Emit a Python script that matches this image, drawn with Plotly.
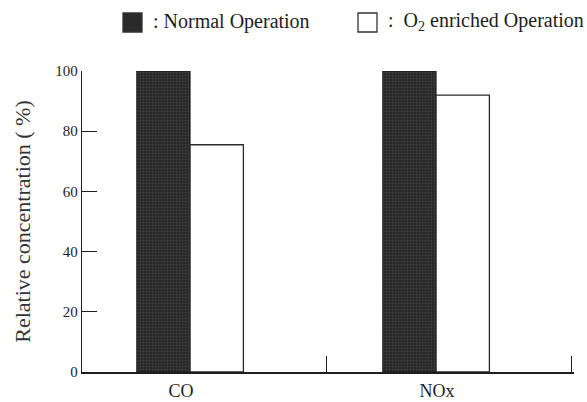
import plotly.graph_objects as go

# Relative concentration of flue-gas species (%)
categories = ["CO", "NOx"]
normal_values = [100, 100]
enriched_values = [75.5, 92]
series_names = ["Normal Operation", "O<sub>2</sub> enriched Operation"]
y_ticks = [0, 20, 40, 60, 80, 100]

# group layout on a numeric x axis: one unit per category
x_range = [0, 2.012]
group_centers = [0.442, 1.448]
label_positions = [0.405, 1.452]
bar_w = 0.218
serif = "Liberation Serif"
ink = "#1e1e1e"

PLOT_L, PLOT_T, PLOT_B = 82, 71, 372
PLOT_W = 492
PLOT_H = PLOT_B - PLOT_T

fig = go.Figure()
fig.add_trace(go.Bar(
    x=group_centers, y=normal_values, width=bar_w, offset=-bar_w,
    name=series_names[0],
    marker=dict(color="#2a2a2a",
                line=dict(color="#1a1a1a", width=1),
                pattern=dict(shape=".", fgcolor="#606060", bgcolor="#262626",
                             size=3, solidity=0.3)),
    showlegend=False,
))
fig.add_trace(go.Bar(
    x=group_centers, y=enriched_values, width=bar_w, offset=0,
    name=series_names[1],
    marker=dict(color="white", line=dict(color="#2a2a2a", width=1.3)),
    showlegend=False,
))


# hand-built legend row above the plot (pixel positions converted to paper units)
def px_x(v):
    return (v - PLOT_L) / PLOT_W


def px_y(v):
    return (PLOT_B - v) / PLOT_H


legend_items = [
    (123, "#2a2a2a", ": " + series_names[0]),
    (358, "white", ":  " + series_names[1]),
]
shapes = []
annotations = []
for x0, fill, text in legend_items:
    shapes.append(dict(type="rect", xref="paper", yref="paper",
                       x0=px_x(x0), x1=px_x(x0 + 19),
                       y0=px_y(32), y1=px_y(13),
                       fillcolor=fill, line=dict(color="#333333", width=1.3)))
    annotations.append(dict(xref="paper", yref="paper",
                            x=px_x(x0 + 28), y=px_y(22),
                            xanchor="left", yanchor="middle", showarrow=False,
                            text=text, font=dict(family=serif, size=20, color=ink)))

fig.update_layout(
    width=587, height=402,
    margin=dict(l=PLOT_L, r=587 - PLOT_L - PLOT_W, t=PLOT_T, b=402 - PLOT_B,
                autoexpand=False),
    paper_bgcolor="white", plot_bgcolor="white",
    shapes=shapes, annotations=annotations,
    xaxis=dict(range=x_range, tickvals=[1, 2], ticks="inside", ticklen=16,
               tickwidth=1.3, tickcolor=ink, showticklabels=False,
               showgrid=False, zeroline=False, showline=True, automargin=False,
               linecolor=ink, linewidth=1.5, fixedrange=True),
    xaxis2=dict(range=x_range, overlaying="x", side="bottom", anchor="y",
                tickvals=label_positions, ticktext=categories, ticks="",
                ticklabelstandoff=6, automargin=False,
                showgrid=False, zeroline=False, showline=False,
                tickfont=dict(family=serif, size=18, color=ink)),
    yaxis=dict(range=[0, 100], tickvals=y_ticks, ticks="inside", ticklen=15,
               tickwidth=1.2, tickcolor=ink, showgrid=False, zeroline=False,
               showline=True, linecolor=ink, linewidth=1.3, automargin=False,
               tickfont=dict(family=serif, size=15, color=ink),
               title=dict(text="Relative concentration ( %)", standoff=18,
                          font=dict(family=serif, size=22, color="#333333"))),
    showlegend=False,
)
# invisible carrier so the label axis is drawn
fig.add_trace(go.Scatter(x=label_positions, y=[0, 0], xaxis="x2", mode="markers",
                         marker=dict(opacity=0), hoverinfo="skip", showlegend=False))

fig.write_html("out.html")
